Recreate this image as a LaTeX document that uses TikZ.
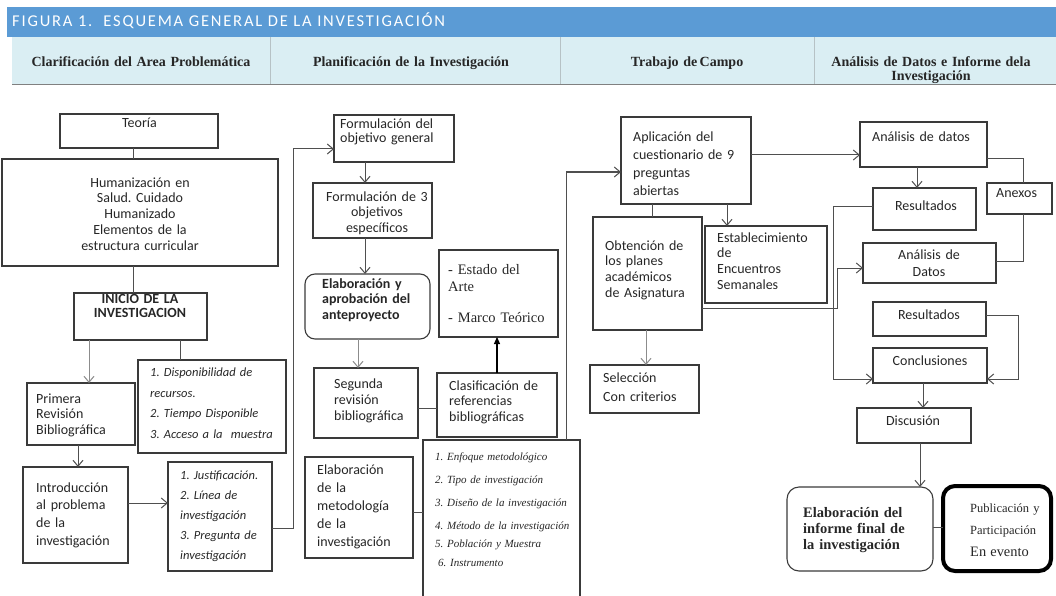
\documentclass[tikz,border=0pt]{standalone}
\usepackage{fontspec}
\setmainfont{Carlito}
\newfontfamily\serif{Liberation Serif}
\newfontfamily\titlefont[LetterSpace=11]{Carlito}
\usetikzlibrary{arrows.meta}
\definecolor{band}{HTML}{5B9BD5}
\definecolor{subband}{HTML}{DAEEF3}
\definecolor{frame}{HTML}{3A3A3A}
\definecolor{wire}{HTML}{4F4F4F}
\definecolor{lightwire}{HTML}{8C8C8C}
\definecolor{ink}{HTML}{262626}
\newcommand\fs[2]{\fontsize{#1}{#2}\selectfont}
% box from its top-left corner (x1,y1) to its bottom-right corner (x2,y2)
\newcommand\bx[6][]{\node[box,#1,minimum width={#5-#3},minimum height={#6-#4}] (#2) at (#3,#4) {};}

\begin{document}
\frenchspacing
\lineskiplimit=-100pt
\begin{tikzpicture}[x=1pt,y=-1pt,
  box/.style={draw=frame,line width=1.1pt,anchor=north west,inner sep=0pt,outer sep=0pt},
  tl/.style={inner sep=0pt,anchor=base west,align=left,text width=170pt,text=ink},
  tc/.style={inner sep=0pt,anchor=base,align=center,text width=240pt,text=ink},
  hd/.style={tc,font=\serif\bfseries\fs{14}{14}},
  ln/.style={draw=wire,line width=1pt},
  arr/.style={ln,-{Straight Barb[length=6pt,width=10pt]}},
  garr/.style={arr,draw=lightwire},
  tri/.style={draw=black,line width=1.1pt,-{Triangle[length=7pt,width=6pt]}}]
\useasboundingbox (0,0) rectangle (1056,596);
\clip (0,0) rectangle (1056,596);

% title band and column headings
\fill[band] (7,7) rectangle (1056,37);
\node[inner sep=0pt,anchor=base west,text=white,font=\titlefont\fs{16.5}{18}] (title) at (12,26.5) {FIGURA 1.\ \ ESQUEMA GENERAL DE LA INVESTIGACIÓN};
\fill[subband] (12,37) rectangle (1056,84);
\draw[black!50,line width=1.8pt] (12,84.5) -- (1056,84.5);
\foreach \sx in {270,560,814} \draw[subband!60!gray,line width=0.6pt] (\sx,37) -- (\sx,84);
\node[hd] (h1) at (141,66.5) {Clarificación del Area Problemática};
\node[hd] (h2) at (411,66.5) {Planificación de la Investigación};
\node[hd] (h3) at (687,66.5) {Trabajo de\,Campo};
\node[hd] (h4) at (931,66.5) {Análisis de Datos e Informe dela\\Investigación};

% boxes
\bx{teoria}{60}{114}{218}{148}
\bx{hum}{2}{159}{278}{266}
\bx{inicio}{74}{293}{207}{340}
\bx{primera}{27}{383}{135}{445}
\bx{dispon}{138}{360}{286}{453}
\bx{intro}{23}{467}{128}{563}
\bx{just}{168}{462}{272}{571}
\bx{fog}{334}{115}{454}{162}
\bx{fotres}{313}{183}{432}{238}
\bx[rounded corners=10pt]{elab}{305}{274}{430}{339}
\bx{estado}{439}{250}{558}{337}
\bx{segunda}{314}{368}{418}{438}
\bx{clasif}{437}{373}{557}{437}
\bx{metod}{305}{457}{413}{558}
\bx{enfoque}{423}{440}{580}{600}
\bx{aplic}{621}{117}{751}{204}
\bx{obt}{593}{217}{702}{330}
\bx{estab}{705}{226}{827}{303}
\bx{selec}{590}{365}{699}{413}
\bx{adatos}{860}{122}{987}{167}
\bx{resA}{873}{188}{976}{230}
\bx{anexos}{987}{183}{1052}{214}
\bx{adatosB}{863}{243}{996}{283}
\bx{resB}{873}{302}{986}{336}
\bx{concl}{873}{348}{987}{383}
\bx{disc}{857}{408}{971}{443}
\bx[rounded corners=12pt]{informe}{787}{487}{933}{571}
\bx[rounded corners=12pt,line width=4pt,draw=black]{publ}{943}{486}{1051}{571}

% texts
\node[tc,font=\fs{14}{16}] (t-teoria) at (139.5,128) {Teoría};
\node[tc,font=\fs{14}{15.75}] (t-hum) at (140,187) {Humanización en\\Salud. Cuidado\\Humanizado\\Elementos de la\\estructura curricular};
\node[tc,font=\bfseries\fs{14}{14}] (t-inicio) at (140,303) {INICIO DE LA\\INVESTIGACION};
\node[tl,font=\fs{14}{15.5}] (t-primera) at (36,403) {Primera\\Revisión\\Bibliográfica};
\node[tl,font=\itshape\fs{12.5}{20.7}] (t-dispon) at (150,376.5) {1. Disponibilidad de\\recursos.\\2. Tiempo Disponible\\3. Acceso a la\ \ muestra};
\node[tl,font=\fs{14}{17.7}] (t-intro) at (36,492) {Introducción\\al problema\\de la\\investigación};
\node[tl,font=\itshape\fs{12.5}{20}] (t-just) at (180,479.5) {1. Justificación.\\2. Línea de\\investigación\\3. Pregunta de\\investigación};
\node[tl,font=\fs{14}{14}] (t-fog) at (340,129) {Formulación del\\objetivo general};
\node[tc,font=\fs{14}{15.5}] (t-fotres) at (377,201) {Formulación de 3\\objetivos\\específicos};
\node[tl,font=\bfseries\fs{14}{15.5}] (t-elab) at (322,288) {\makebox[87pt][s]{Elaboración y}\\aprobación del\\anteproyecto};
\node[tl,font=\serif\fs{14.5}{17}] (t-estado) at (448,274) {- Estado del\\Arte\\[14pt]- Marco Teórico};
\node[tl,font=\fs{14}{16}] (t-segunda) at (334,388) {Segunda\\revisión\\bibliográfica};
\node[tl,font=\fs{14}{15.5}] (t-clasif) at (449,390) {Clasificación de\\referencias\\bibliográficas};
\node[tl,font=\fs{14}{18}] (t-metod) at (317,474) {Elaboración\\de la\\metodología\\de la\\investigación};
\node[tl,font=\serif\itshape\fs{11}{23}] (t-enfoque) at (435,460) {1. Enfoque metodológico\\2. Tipo de investigación\\3. Diseño de la investigación\\4. Método de la investigación\\[-5pt]5. Población y Muestra\\[-4pt]\hspace*{3pt}6. Instrumento};
\node[tl,font=\fs{14}{18}] (t-aplic) at (633,142) {Aplicación del\\cuestionario de 9\\preguntas\\abiertas};
\node[tl,font=\fs{14}{15.7}] (t-obt) at (605,250) {Obtención de\\los planes\\académicos\\de Asignatura};
\node[tl,font=\fs{14}{15.7}] (t-estab) at (717,242) {Establecimiento\\de\\Encuentros\\Semanales};
\node[tl,font=\fs{14}{19}] (t-selec) at (603,382) {Selección\\Con criterios};
\node[tl,font=\fs{14}{16}] (t-adatos) at (872,142) {Análisis de datos};
\node[tc,font=\fs{14}{16}] (t-resA) at (926,210) {Resultados};
\node[tl,font=\fs{14}{16}] (t-anexos) at (996,197) {Anexos};
\node[tc,font=\fs{14}{17}] (t-adatosB) at (929,259) {Análisis de\\Datos};
\node[tc,font=\fs{14}{16}] (t-resB) at (929,319) {Resultados};
\node[tc,font=\fs{14}{16}] (t-concl) at (930,365) {Conclusiones};
\node[tc,font=\fs{14}{16}] (t-disc) at (913,425) {Discusión};
\node[tl,font=\serif\bfseries\fs{14.5}{16}] (t-informe) at (803,517) {Elaboración del\\informe final de\\la investigación};
\node[tl,font=\serif\fs{12.5}{22}] (t-publ) at (970,512) {Publicación y\\Participación\\{\fs{14.4}{23}En evento}};

% connectors
\coordinate (g133) at (133,0);
\draw[ln] (teoria.south -| g133) -- (hum.north -| g133);
\draw[ln] (hum.south -| g133) -- (inicio.north -| g133);
\coordinate (g89) at (89,0);
\draw[garr] (inicio.south -| g89) -- (primera.north -| g89);
\coordinate (g180) at (180,0);
\draw[ln] (inicio.south -| g180) -- (dispon.north -| g180);
\coordinate (g78) at (78,0);
\draw[arr] (primera.south -| g78) -- (intro.north -| g78);
\coordinate (g503) at (0,503);
\draw[arr] (intro.east |- g503) -- (just.west |- g503);
\coordinate (k1) at (293,528);
\coordinate (k2) at (293,149);
\draw[arr] (just.east |- k1) -- (k1) -- (k2) -- (fog.west |- k2);
\coordinate (g365) at (365,0);
\draw[arr] (fog.south -| g365) -- (fotres.north -| g365);
\draw[arr] (fotres.south -| g365) -- (elab.north -| g365);
\coordinate (g358) at (358,0);
\draw[garr] (elab.south -| g358) -- (segunda.north -| g358);
\coordinate (g408) at (0,408);
\draw[ln] (segunda.east |- g408) -- (clasif.west |- g408);
\coordinate (g497) at (497,0);
\draw[tri] (clasif.north -| g497) -- (estado.south -| g497);
\coordinate (g512) at (0,512);
\draw[ln] (metod.east |- g512) -- (enfoque.west |- g512);
\coordinate (k3) at (566,172);
\draw[arr] (enfoque.north -| k3) -- (k3) -- (aplic.west |- k3);
\coordinate (g155) at (0,155);
\draw[arr] (aplic.east |- g155) -- (adatos.west |- g155);
\coordinate (g652) at (652,0);
\draw[ln] (aplic.south -| g652) -- (obt.north -| g652);
\coordinate (g727) at (727,0);
\draw[arr] (aplic.south -| g727) -- (estab.north -| g727);
\coordinate (g646) at (646,0);
\draw[garr] (obt.south -| g646) -- (selec.north -| g646);
\coordinate (k4) at (837,308);
\coordinate (k5) at (837,268);
\draw[arr] (obt.east |- k4) -- (k4) -- (k5) -- (adatosB.west |- k5);
\coordinate (k6) at (833,206);
\coordinate (k7) at (833,379);
\draw[arr] (resA.west |- k6) -- (k6) -- (k7) -- (concl.west |- k7);
\coordinate (g917) at (917,0);
\draw[arr] (adatos.south -| g917) -- (resA.north -| g917);
\coordinate (k8) at (1023,159);
\draw[ln] (adatos.east |- k8) -- (k8) -- (anexos.north -| k8);
\coordinate (k9) at (1023,261);
\draw[ln] (anexos.south -| k9) -- (k9) -- (adatosB.east |- k9);
\coordinate (k10) at (1018,315);
\coordinate (k11) at (1018,379);
\draw[arr] (resB.east |- k10) -- (k10) -- (k11) -- (concl.east |- k11);
\coordinate (g923) at (923,0);
\draw[arr] (concl.south -| g923) -- (disc.north -| g923);
\coordinate (g920) at (920,0);
\draw[arr] (disc.south -| g920) -- (informe.north -| g920);
\coordinate (g527) at (0,527);
\draw[ln] (informe.east |- g527) -- (publ.west |- g527);
\end{tikzpicture}
\end{document}
